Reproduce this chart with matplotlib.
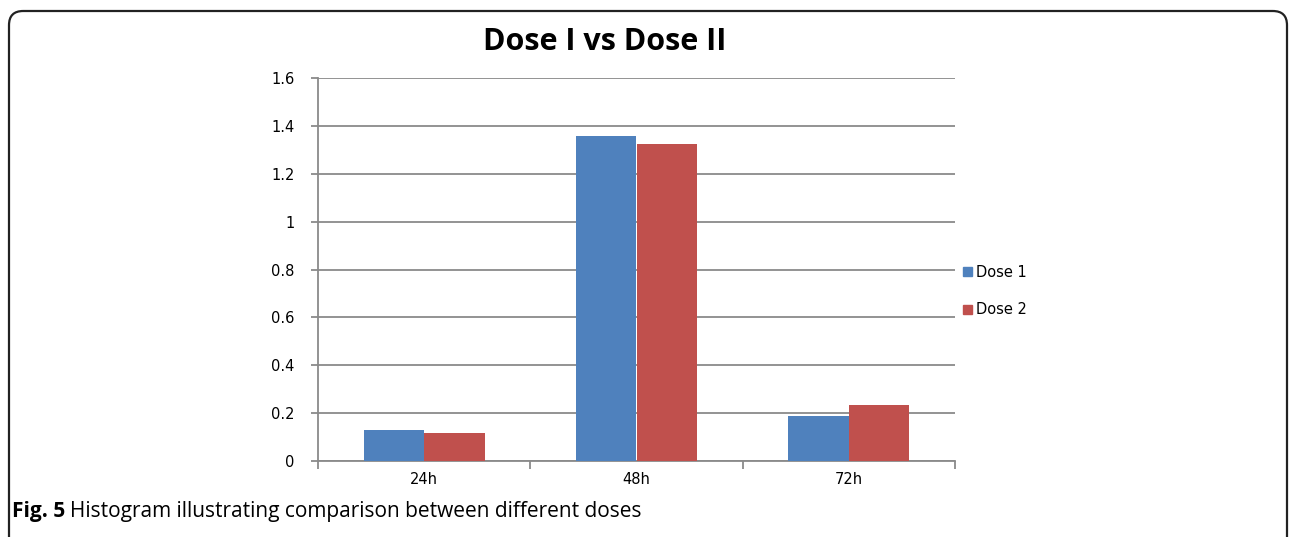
import matplotlib
matplotlib.use('Agg')
import matplotlib.pyplot as plt
from matplotlib.patches import FancyBboxPatch, Patch

# data
categories = ['24h', '48h', '72h']
dose1 = [0.130, 1.357, 0.188]
dose2 = [0.117, 1.324, 0.234]
series_names = ['Dose 1', 'Dose 2']
colors = ['#4F81BD', '#C0504D']
y_ticks = [0, 0.2, 0.4, 0.6, 0.8, 1, 1.2, 1.4, 1.6]
y_labels = ['0', '0.2', '0.4', '0.6', '0.8', '1', '1.2', '1.4', '1.6']

W, H = 1292, 537
fig = plt.figure(figsize=(W / 100, H / 100), dpi=100)

# rounded frame around the figure panel
frame = FancyBboxPatch((9 / W, -0.2), (1287 - 9) / W, (H - 11) / H + 0.2,
                       boxstyle='round,pad=0,rounding_size=0.011',
                       transform=fig.transFigure, fill=False,
                       edgecolor='#222222', linewidth=1.6, mutation_aspect=W / H)
fig.patches.append(frame)

ax = fig.add_axes([318 / W, 1 - 461 / H, (955 - 318) / W, (461 - 78) / H])
w = 1 / 3.5
x = list(range(len(categories)))
ax.bar([i - w / 2 for i in x], dose1, width=w, color=colors[0], linewidth=0, zorder=3)
ax.bar([i + w / 2 for i in x], dose2, width=w, color=colors[1], linewidth=0, zorder=3)

grid = '#8a8a8a'
ax.set_xlim(-0.5, len(categories) - 0.5)
ax.set_ylim(0, 1.6)
ax.set_yticks(y_ticks)
ax.set_yticklabels(y_labels)
ax.yaxis.grid(True, color=grid, linewidth=1.3, zorder=0)
for s in ['top', 'right']:
    ax.spines[s].set_visible(False)
for s in ['left', 'bottom']:
    ax.spines[s].set_color(grid)
    ax.spines[s].set_linewidth(1.3)
ax.set_xticks([i - 0.5 for i in range(len(categories) + 1)])
ax.set_xticklabels([])
ax.set_xticks(x, minor=True)
ax.set_xticklabels(categories, minor=True)
ax.tick_params(axis='x', which='major', length=6, color=grid, width=1.3)
ax.tick_params(axis='x', which='minor', length=0, pad=8, labelsize=10.5)
ax.tick_params(axis='y', length=5, color=grid, width=1.3, pad=12, labelsize=10.5)

fig.text(605 / W, 1 - 42 / H, 'Dose I vs Dose II', ha='center', va='center',
         fontsize=22, fontweight='bold', family='Open Sans')

handles = [Patch(color=c) for c in colors]
fig.legend(handles, series_names, loc='center left',
           bbox_to_anchor=(957 / W, 1 - 291 / H), frameon=False,
           handlelength=0.6, handleheight=0.6, handletextpad=0.3,
           labelspacing=1.55, fontsize=10.5, borderaxespad=0)

# caption
cap1 = fig.text(12 / W, 1 - 512 / H, 'Fig. 5', ha='left', va='center',
                fontsize=15, fontweight='bold', family='Open Sans')
fig.canvas.draw()
bb = cap1.get_window_extent()
fig.text((bb.x1 + 5) / W, 1 - 512 / H,
         'Histogram illustrating comparison between different doses',
         ha='left', va='center', fontsize=15, family='Open Sans')

fig.savefig('out.png', dpi=100)
